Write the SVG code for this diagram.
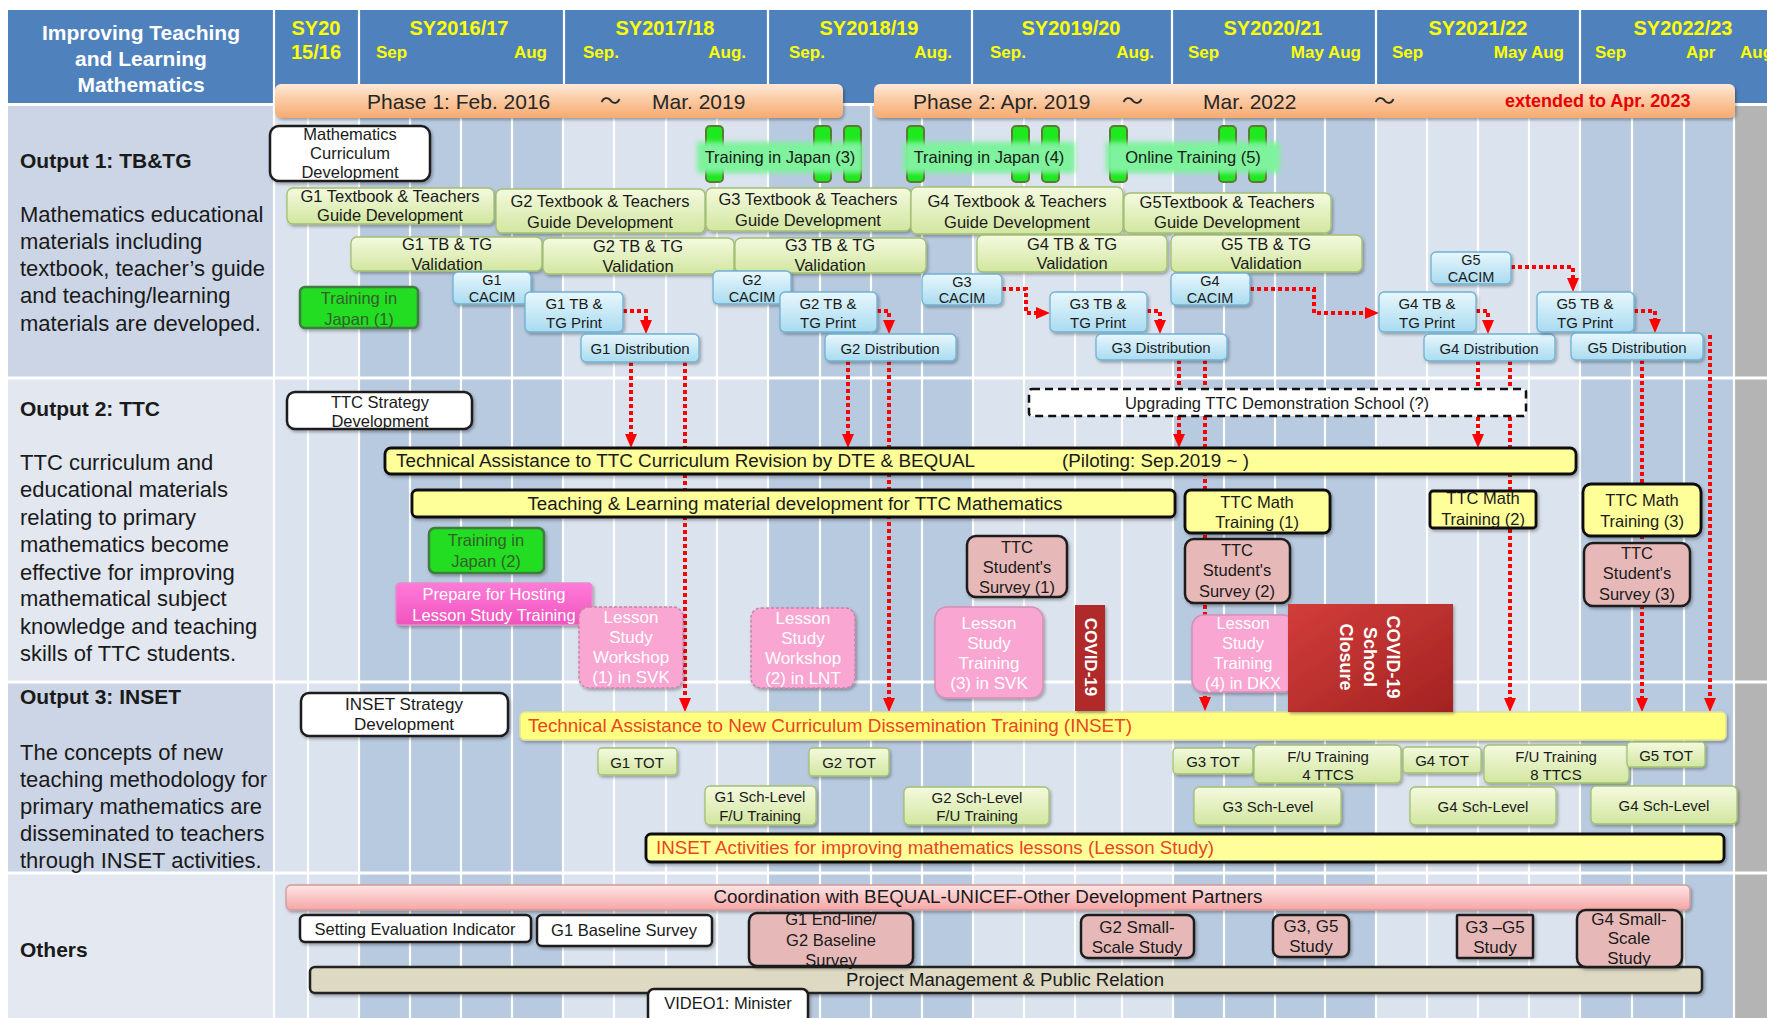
<svg xmlns="http://www.w3.org/2000/svg" width="1767" height="1018" viewBox="0 0 1767 1018">
<defs>
<style>
text{font-family:"Liberation Sans",Arial,"Noto Sans CJK JP",sans-serif;dominant-baseline:central;fill:#1a1a1a}
.c{text-anchor:middle}
.e{text-anchor:end}
.s14{font-size:14.5px}.s15{font-size:15px}.s16{font-size:16.5px}.s17{font-size:17px}
.hd{fill:#fff;font-weight:bold;font-size:21px;text-anchor:middle}
.yr{fill:#ffff00;font-weight:bold;font-size:20px;text-anchor:middle}
.mo{fill:#ffff00;font-weight:bold;font-size:17px}
.ph{font-size:21px;fill:#262626}
.lab{font-size:21px;font-weight:bold}
.desc{font-size:22px}
.light{fill:#dbe3ee}.dark{fill:#b8cadf}
.grid{stroke:#fff;stroke-width:2.2}
.green{fill:url(#gGreen);stroke:#a3c071;stroke-width:1.3}
.blue{fill:url(#gBlue);stroke:#6fb1d4;stroke-width:1.3}
.white{fill:#fff;stroke:#1e1e1e;stroke-width:2.5}
.pink{fill:#e6b9b8;stroke:#1e1e1e;stroke-width:2.5}
.yel{fill:#ffff99;stroke:#111;stroke-width:2.8}
.jp{fill:#20dd20;stroke:#3f7b3f;stroke-width:2.5}
.jpt{fill:#35602a}
.pill{fill:#1ee81e;stroke:#5d7a33;stroke-width:2}
.ls{fill:#f9a6d2;stroke:#d58fb6;stroke-width:1.5}
.lsd{fill:#f9a6d2;stroke:#c983a8;stroke-width:1.5;stroke-dasharray:3 2}
.wt{fill:#fff}
.red{fill:#e8461e}
.sh{filter:url(#sh)}
.dot{fill:none;stroke:#ff0000;stroke-width:4;stroke-dasharray:4 3;marker-end:url(#ah)}
</style>
<linearGradient id="gGreen" x1="0" y1="0" x2="0" y2="1"><stop offset="0" stop-color="#f4fadf"/><stop offset="1" stop-color="#d2e6a0"/></linearGradient>
<linearGradient id="gBlue" x1="0" y1="0" x2="0" y2="1"><stop offset="0" stop-color="#e8f7fd"/><stop offset="1" stop-color="#a9dbf0"/></linearGradient>
<linearGradient id="gPhase" x1="0" y1="0" x2="0" y2="1"><stop offset="0" stop-color="#fee9d8"/><stop offset="0.5" stop-color="#fbc89f"/><stop offset="1" stop-color="#f6aa70"/></linearGradient>
<linearGradient id="gCoord" x1="0" y1="0" x2="0" y2="1"><stop offset="0" stop-color="#ffe6e6"/><stop offset="1" stop-color="#f5a5a5"/></linearGradient>
<linearGradient id="gCovid" x1="0" y1="0" x2="1" y2="1"><stop offset="0" stop-color="#d23d3a"/><stop offset="1" stop-color="#a32322"/></linearGradient>
<linearGradient id="gMag" x1="0" y1="0" x2="0" y2="1"><stop offset="0" stop-color="#ff7bd8"/><stop offset="1" stop-color="#f054be"/></linearGradient>
<filter id="sh" x="-10%" y="-20%" width="125%" height="150%"><feDropShadow dx="1.5" dy="2" stdDeviation="1.5" flood-color="#000" flood-opacity="0.3"/></filter>
<filter id="gl" x="-10%" y="-30%" width="120%" height="160%"><feGaussianBlur stdDeviation="2.5"/></filter>
<marker id="ah" markerUnits="userSpaceOnUse" markerWidth="14" markerHeight="13" refX="3" refY="6.5" orient="auto"><path d="M0,0.5 L14,6.5 L0,12.5 Z" fill="#ff0000"/></marker>
</defs>

<!-- page, header band and row backgrounds -->
<g id="background">
<rect width="1767" height="1018" fill="#fff"/>
<rect x="8" y="10" width="1759" height="94" fill="#4f81bd"/>
<rect x="8" y="105" width="266" height="272" fill="#cbd5e5"/>
<rect x="8" y="379" width="266" height="302" fill="#e2e7f0"/>
<rect x="8" y="683" width="266" height="189" fill="#ccd5e5"/>
<rect x="8" y="874" width="266" height="144" fill="#e4e9f1"/>
<rect class="light" x="275" y="105" width="84" height="913"/>
<rect class="dark" x="359" y="105" width="204" height="913"/>
<rect class="light" x="563" y="105" width="205" height="913"/>
<rect class="dark" x="768" y="105" width="205" height="913"/>
<rect class="light" x="973" y="105" width="200" height="913"/>
<rect class="dark" x="1173" y="105" width="203" height="913"/>
<rect class="light" x="1376" y="105" width="204" height="913"/>
<rect class="dark" x="1580" y="105" width="154" height="913"/>
<rect x="1734" y="105" width="33" height="913" fill="#b4b4b4"/>
<g class="grid">
<path d="M274,10V1018M359,10V104M564,10V104M768,10V104M972,10V104M1172,10V104M1376,10V104M1580,10V104"/>
<path d="M308,105V1018M359,105V1018M410,105V1018M461,105V1018M512,105V1018M563,105V1018M614,105V1018M666,105V1018M717,105V1018M768,105V1018M820,105V1018M871,105V1018M922,105V1018M973,105V1018M1024,105V1018M1075,105V1018M1122,105V1018M1173,105V1018M1224,105V1018M1275,105V1018M1325,105V1018M1376,105V1018M1427,105V1018M1478,105V1018M1529,105V1018M1580,105V1018M1632,105V1018M1684,105V1018M1734,105V1018"/>
<path d="M8,104.5H1767M8,378H1767M8,682H1767M8,873H1767" stroke-width="3"/>
</g>
</g>

<!-- header: title, school years and months -->
<g id="title">
<text class="hd" x="141" y="32">Improving Teaching</text>
<text class="hd" x="141" y="58">and Learning</text>
<text class="hd" x="141" y="84">Mathematics</text>
</g>
<g id="years">
<text class="yr" x="316" y="28">SY20</text><text class="yr" x="316" y="52">15/16</text>
<text class="yr" x="459" y="28">SY2016/17</text><text class="mo" x="376" y="52">Sep</text><text class="mo e" x="547" y="52">Aug</text>
<text class="yr" x="665" y="28">SY2017/18</text><text class="mo" x="583" y="52">Sep.</text><text class="mo e" x="746" y="52">Aug.</text>
<text class="yr" x="869" y="28">SY2018/19</text><text class="mo" x="789" y="52">Sep.</text><text class="mo e" x="952" y="52">Aug.</text>
<text class="yr" x="1071" y="28">SY2019/20</text><text class="mo" x="990" y="52">Sep.</text><text class="mo e" x="1154" y="52">Aug.</text>
<text class="yr" x="1273" y="28">SY2020/21</text><text class="mo" x="1188" y="52">Sep</text><text class="mo e" x="1361" y="52">May Aug</text>
<text class="yr" x="1478" y="28">SY2021/22</text><text class="mo" x="1392" y="52">Sep</text><text class="mo e" x="1564" y="52">May Aug</text>
<text class="yr" x="1683" y="28">SY2022/23</text><text class="mo" x="1595" y="52">Sep</text><text class="mo" x="1686" y="52">Apr</text><text class="mo" x="1740" y="52">Aug</text>
</g>

<g id="phase1">
<rect class="sh" x="275" y="84" width="568" height="34" rx="6" fill="url(#gPhase)"/>
<text class="ph" x="367" y="101">Phase 1: Feb. 2016</text>
<text class="ph" x="600" y="100">～</text>
<text class="ph" x="652" y="101">Mar. 2019</text>
</g>
<g id="phase2">
<rect class="sh" x="874" y="84" width="861" height="34" rx="6" fill="url(#gPhase)"/>
<text class="ph" x="913" y="101" font-size="20">Phase 2: Apr. 2019</text>
<text class="ph" x="1122" y="100">～</text>
<text class="ph" x="1203" y="101" font-size="20">Mar. 2022</text>
<text class="ph" x="1374" y="100">～</text>
<text x="1505" y="101" font-size="18" font-weight="bold" style="fill:#e60000">extended to Apr. 2023</text>
</g>

<!-- left column: outputs -->
<g id="output1-label">
<text class="lab" x="20" y="160">Output 1: TB&amp;TG</text>
<text class="desc" x="20" y="214">Mathematics educational</text>
<text class="desc" x="20" y="241">materials including</text>
<text class="desc" x="20" y="268">textbook, teacher’s guide</text>
<text class="desc" x="20" y="295">and teaching/learning</text>
<text class="desc" x="20" y="323">materials are developed.</text>
</g>
<g id="output2-label">
<text class="lab" x="20" y="408">Output 2: TTC</text>
<text class="desc" x="20" y="462">TTC curriculum  and</text>
<text class="desc" x="20" y="489">educational  materials</text>
<text class="desc" x="20" y="517">relating to primary</text>
<text class="desc" x="20" y="544">mathematics  become</text>
<text class="desc" x="20" y="572">effective for improving</text>
<text class="desc" x="20" y="598">mathematical  subject</text>
<text class="desc" x="20" y="626">knowledge and teaching</text>
<text class="desc" x="20" y="653">skills of TTC students.</text>
</g>
<g id="output3-label">
<text class="lab" x="20" y="696">Output 3: INSET</text>
<text class="desc" x="20" y="752">The concepts of new</text>
<text class="desc" x="20" y="779">teaching methodology for</text>
<text class="desc" x="20" y="806">primary mathematics are</text>
<text class="desc" x="20" y="833">disseminated to teachers</text>
<text class="desc" x="20" y="860">through INSET activities.</text>
</g>
<g id="others-label">
<text class="lab" x="20" y="949">Others</text>
</g>

<!-- dotted red flows between activities (drawn under the activity boxes) -->
<g id="connectors">
<path class="dot" d="M623,311H646V323"/>
<path class="dot" d="M877,311H889V323"/>
<path class="dot" d="M1002,289H1026V313H1039"/>
<path class="dot" d="M1147,311H1160V323"/>
<path class="dot" d="M1250,289H1314V313H1368"/>
<path class="dot" d="M1511,267H1573V281"/>
<path class="dot" d="M1476,311H1488V323"/>
<path class="dot" d="M1634,311H1655V322"/>
<path class="dot" d="M631,362V437"/>
<path class="dot" d="M685,362V701"/>
<path class="dot" d="M848,361V437"/>
<path class="dot" d="M889,361V701"/>
<path class="dot" d="M1179,360V437"/>
<path class="dot" d="M1205,360V700"/>
<path class="dot" d="M1478,361V437"/>
<path class="dot" d="M1510,361V701"/>
<path class="dot" d="M1642,360V701"/>
<path class="dot" d="M1710,335V701"/>
</g>

<!-- long activity bars -->
<g id="ta-ttc-revision">
<rect class="yel sh" x="385" y="448" width="1191" height="26" rx="6"/>
<text x="396" y="461" font-size="18" textLength="579" lengthAdjust="spacingAndGlyphs">Technical Assistance to TTC Curriculum Revision by DTE &amp; BEQUAL</text>
<text x="1062" y="461" font-size="18" textLength="187" lengthAdjust="spacingAndGlyphs">(Piloting: Sep.2019 ~ )</text>
</g>
<g id="tl-material">
<rect class="yel sh" x="412" y="490" width="763" height="27" rx="5"/>
<text class="c" x="795" y="504" font-size="18" textLength="535" lengthAdjust="spacingAndGlyphs">Teaching &amp; Learning material development for TTC Mathematics</text>
</g>
<g id="ta-inset">
<rect class="sh" x="520" y="712" width="1206" height="28" rx="5" fill="#ffff80" stroke="#e2e29a" stroke-width="1.5"/>
<text class="red" x="528" y="726" font-size="17.5" textLength="604" lengthAdjust="spacingAndGlyphs">Technical Assistance to New Curriculum Dissemination Training (INSET)</text>
</g>
<g id="inset-activities">
<rect class="yel sh" x="646" y="834" width="1078" height="28" rx="5"/>
<text class="red" x="656" y="848" font-size="17.5" textLength="558" lengthAdjust="spacingAndGlyphs">INSET Activities for improving mathematics  lessons  (Lesson Study)</text>
</g>
<g id="coordination">
<rect class="sh" x="286" y="885" width="1404" height="25" rx="5" fill="url(#gCoord)" stroke="#d09a9a" stroke-width="1.3"/>
<text class="c" x="988" y="897" font-size="17.5" textLength="549" lengthAdjust="spacingAndGlyphs">Coordination with BEQUAL-UNICEF-Other Development Partners</text>
</g>
<g id="project-management">
<rect class="sh" x="310" y="967" width="1392" height="26" rx="5" fill="#ddd9c3" stroke="#222" stroke-width="2.5"/>
<text class="c" x="1005" y="980" font-size="17.5" textLength="318" lengthAdjust="spacingAndGlyphs">Project Management &amp; Public Relation</text>
</g>

<!-- Output 1 activities -->
<g id="math-curriculum">
<rect class="white sh" x="270" y="126" width="160" height="55" rx="9"/>
<text class="c s16" x="350" y="134">Mathematics</text>
<text class="c s16" x="350" y="153">Curriculum</text>
<text class="c s16" x="350" y="172">Development</text>
</g>
<g id="training-marks">
<rect class="pill" x="706" y="126" width="17" height="56" rx="4"/>
<rect class="pill" x="814" y="126" width="17" height="56" rx="4"/>
<rect class="pill" x="844" y="126" width="17" height="56" rx="4"/>
<rect class="pill" x="907" y="126" width="17" height="56" rx="4"/>
<rect class="pill" x="1012" y="126" width="17" height="56" rx="4"/>
<rect class="pill" x="1042" y="126" width="17" height="56" rx="4"/>
<rect class="pill" x="1110" y="126" width="17" height="56" rx="4"/>
<rect class="pill" x="1219" y="126" width="17" height="56" rx="4"/>
<rect class="pill" x="1249" y="126" width="17" height="56" rx="4"/>
</g>
<g id="training-japan-3">
<rect x="697" y="142" width="166" height="31" fill="#7ef29c" filter="url(#gl)"/>
<text class="c s16" x="780" y="157">Training in Japan (3)</text>
</g>
<g id="training-japan-4">
<rect x="903" y="142" width="172" height="31" fill="#7ef29c" filter="url(#gl)"/>
<text class="c s16" x="989" y="157">Training in Japan (4)</text>
</g>
<g id="online-training-5">
<rect x="1106" y="142" width="174" height="31" fill="#7ef29c" filter="url(#gl)"/>
<text class="c s16" x="1193" y="157">Online Training (5)</text>
</g>

<g id="g1-dev"><rect class="green sh" x="287" y="188" width="207" height="36" rx="6"/>
<text class="c s16" x="390" y="196">G1 Textbook &amp; Teachers</text><text class="c s16" x="390" y="215">Guide Development</text></g>
<g id="g2-dev"><rect class="green sh" x="496" y="189" width="209" height="44" rx="6"/>
<text class="c s16" x="600" y="201">G2 Textbook &amp; Teachers</text><text class="c s16" x="600" y="222">Guide Development</text></g>
<g id="g3-dev"><rect class="green sh" x="706" y="188" width="205" height="43" rx="6"/>
<text class="c s16" x="808" y="199">G3 Textbook &amp; Teachers</text><text class="c s16" x="808" y="220">Guide Development</text></g>
<g id="g4-dev"><rect class="green sh" x="911" y="187" width="212" height="47" rx="6"/>
<text class="c s16" x="1017" y="201">G4 Textbook &amp; Teachers</text><text class="c s16" x="1017" y="222">Guide Development</text></g>
<g id="g5-dev"><rect class="green sh" x="1124" y="193" width="207" height="40" rx="6"/>
<text class="c s16" x="1227" y="202">G5Textbook &amp; Teachers</text><text class="c s16" x="1227" y="222">Guide Development</text></g>

<g id="g1-val"><rect class="green sh" x="351" y="237" width="191" height="34" rx="6"/>
<text class="c s16" x="447" y="244">G1 TB &amp; TG</text><text class="c s16" x="447" y="264">Validation</text></g>
<g id="g2-val"><rect class="green sh" x="543" y="238" width="191" height="36" rx="6"/>
<text class="c s16" x="638" y="246">G2 TB &amp; TG</text><text class="c s16" x="638" y="266">Validation</text></g>
<g id="g3-val"><rect class="green sh" x="735" y="238" width="191" height="35" rx="6"/>
<text class="c s16" x="830" y="245">G3 TB &amp; TG</text><text class="c s16" x="830" y="265">Validation</text></g>
<g id="g4-val"><rect class="green sh" x="977" y="235" width="190" height="37" rx="6"/>
<text class="c s16" x="1072" y="244">G4 TB &amp; TG</text><text class="c s16" x="1072" y="263">Validation</text></g>
<g id="g5-val"><rect class="green sh" x="1171" y="235" width="191" height="37" rx="6"/>
<text class="c s16" x="1266" y="244">G5 TB &amp; TG</text><text class="c s16" x="1266" y="263">Validation</text></g>

<g id="training-japan-1"><rect class="jp sh" x="300" y="287" width="118" height="41" rx="5"/>
<text class="c s16 jpt" x="359" y="298">Training in</text><text class="c s16 jpt" x="359" y="319">Japan (1)</text></g>

<g id="g1-cacim"><rect class="blue sh" x="453" y="272" width="78" height="32" rx="5"/>
<text class="c s14" x="492" y="280">G1</text><text class="c s14" x="492" y="297">CACIM</text></g>
<g id="g1-print"><rect class="blue sh" x="525" y="292" width="98" height="40" rx="5"/>
<text class="c s15" x="574" y="303">G1 TB &amp;</text><text class="c s15" x="574" y="322">TG Print</text></g>
<g id="g1-dist"><rect class="blue sh" x="581" y="334" width="118" height="28" rx="5"/>
<text class="c s15" x="640" y="348">G1 Distribution</text></g>
<g id="g2-cacim"><rect class="blue sh" x="713" y="271" width="78" height="33" rx="5"/>
<text class="c s14" x="752" y="280">G2</text><text class="c s14" x="752" y="297">CACIM</text></g>
<g id="g2-print"><rect class="blue sh" x="780" y="292" width="97" height="40" rx="5"/>
<text class="c s15" x="828" y="303">G2 TB &amp;</text><text class="c s15" x="828" y="322">TG Print</text></g>
<g id="g2-dist"><rect class="blue sh" x="825" y="334" width="131" height="27" rx="5"/>
<text class="c s15" x="890" y="348">G2 Distribution</text></g>
<g id="g3-cacim"><rect class="blue sh" x="922" y="274" width="80" height="31" rx="5"/>
<text class="c s14" x="962" y="282">G3</text><text class="c s14" x="962" y="298">CACIM</text></g>
<g id="g3-print"><rect class="blue sh" x="1050" y="292" width="97" height="40" rx="5"/>
<text class="c s15" x="1098" y="303">G3 TB &amp;</text><text class="c s15" x="1098" y="322">TG Print</text></g>
<g id="g3-dist"><rect class="blue sh" x="1096" y="334" width="131" height="26" rx="5"/>
<text class="c s15" x="1161" y="347">G3 Distribution</text></g>
<g id="g4-cacim"><rect class="blue sh" x="1171" y="273" width="79" height="32" rx="5"/>
<text class="c s14" x="1210" y="281">G4</text><text class="c s14" x="1210" y="298">CACIM</text></g>
<g id="g5-cacim"><rect class="blue sh" x="1431" y="252" width="80" height="32" rx="5"/>
<text class="c s14" x="1471" y="260">G5</text><text class="c s14" x="1471" y="277">CACIM</text></g>
<g id="g4-print"><rect class="blue sh" x="1379" y="292" width="97" height="40" rx="5"/>
<text class="c s15" x="1427" y="303">G4 TB &amp;</text><text class="c s15" x="1427" y="322">TG Print</text></g>
<g id="g4-dist"><rect class="blue sh" x="1424" y="334" width="131" height="27" rx="5"/>
<text class="c s15" x="1489" y="348">G4 Distribution</text></g>
<g id="g5-print"><rect class="blue sh" x="1537" y="292" width="97" height="40" rx="5"/>
<text class="c s15" x="1585" y="303">G5 TB &amp;</text><text class="c s15" x="1585" y="322">TG Print</text></g>
<g id="g5-dist"><rect class="blue sh" x="1571" y="333" width="132" height="27" rx="5"/>
<text class="c s15" x="1637" y="347">G5 Distribution</text></g>

<!-- Output 2 activities -->
<g id="ttc-strategy"><rect class="white sh" x="287" y="392" width="185" height="37" rx="8"/>
<text class="c s16" x="380" y="402">TTC Strategy</text><text class="c s16" x="380" y="421">Development</text></g>
<g id="upgrading-demo"><rect x="1029" y="389" width="497" height="27" rx="3" fill="#fff" stroke="#111" stroke-width="2.5" stroke-dasharray="8 5"/>
<text class="c s16" x="1277" y="403">Upgrading TTC Demonstration School  (?)</text></g>
<g id="ttc-math-1"><rect class="yel sh" x="1185" y="490" width="145" height="43" rx="6"/>
<text class="c s16" x="1257" y="502">TTC Math</text><text class="c s16" x="1257" y="522">Training (1)</text></g>
<g id="ttc-math-2"><rect class="yel sh" x="1430" y="491" width="106" height="37" rx="3"/>
<text class="c s16" x="1483" y="498">TTC Math</text><text class="c s16" x="1483" y="519">Training (2)</text></g>
<g id="ttc-math-3"><rect class="yel sh" x="1583" y="484" width="118" height="52" rx="8"/>
<text class="c s16" x="1642" y="500">TTC Math</text><text class="c s16" x="1642" y="521">Training (3)</text></g>
<g id="survey-1"><rect class="pink sh" x="967" y="536" width="100" height="61" rx="9"/>
<text class="c s16" x="1017" y="547">TTC</text><text class="c s16" x="1017" y="567">Student's</text><text class="c s16" x="1017" y="587">Survey (1)</text></g>
<g id="survey-2"><rect class="pink sh" x="1185" y="539" width="105" height="64" rx="9"/>
<text class="c s16" x="1237" y="550">TTC</text><text class="c s16" x="1237" y="570">Student's</text><text class="c s16" x="1237" y="591">Survey (2)</text></g>
<g id="survey-3"><rect class="pink sh" x="1584" y="543" width="106" height="63" rx="9"/>
<text class="c s16" x="1637" y="553">TTC</text><text class="c s16" x="1637" y="573">Student's</text><text class="c s16" x="1637" y="594">Survey (3)</text></g>
<g id="training-japan-2"><rect class="jp sh" x="429" y="528" width="115" height="45" rx="6"/>
<text class="c s16 jpt" x="486" y="540">Training in</text><text class="c s16 jpt" x="486" y="561">Japan (2)</text></g>
<g id="prepare-lesson-study"><rect class="sh" x="396" y="583" width="196" height="42" rx="4" fill="url(#gMag)" stroke="#e58ccb" stroke-width="1.3"/>
<text class="c s16 wt" x="494" y="594">Prepare for Hosting</text><text class="c s16 wt" x="494" y="615">Lesson Study Training</text></g>
<g id="lsw-1"><rect class="lsd sh" x="579" y="607" width="104" height="81" rx="10"/>
<text class="c s17 wt" x="631" y="617">Lesson</text><text class="c s17 wt" x="631" y="637">Study</text><text class="c s17 wt" x="631" y="657">Workshop</text><text class="c s17 wt" x="631" y="677">(1) in SVK</text></g>
<g id="lsw-2"><rect class="lsd sh" x="751" y="608" width="104" height="80" rx="10"/>
<text class="c s17 wt" x="803" y="618">Lesson</text><text class="c s17 wt" x="803" y="638">Study</text><text class="c s17 wt" x="803" y="658">Workshop</text><text class="c s17 wt" x="803" y="678">(2) in LNT</text></g>
<g id="lst-3"><rect class="ls sh" x="935" y="607" width="108" height="91" rx="12"/>
<text class="c s17 wt" x="989" y="623">Lesson</text><text class="c s17 wt" x="989" y="643">Study</text><text class="c s17 wt" x="989" y="663">Training</text><text class="c s17 wt" x="989" y="683">(3) in SVK</text></g>
<g id="covid-19"><rect class="sh" x="1075" y="605" width="30" height="106" fill="#b02a2a"/>
<text class="c wt" transform="translate(1090,657) rotate(90)" font-size="17" font-weight="bold">COVID-19</text></g>
<g id="lst-4"><rect class="ls sh" x="1192" y="615" width="103" height="77" rx="12"/>
<text class="c s16 wt" x="1243" y="623">Lesson</text><text class="c s16 wt" x="1243" y="643">Study</text><text class="c s16 wt" x="1243" y="663">Training</text><text class="c s16 wt" x="1243" y="683">(4) in DKX</text></g>
<g id="covid-school-closure"><rect class="sh" x="1288" y="604" width="165" height="108" fill="url(#gCovid)"/>
<g transform="translate(1369,657) rotate(90)" font-size="18" font-weight="bold">
<text class="c wt" x="0" y="-24">COVID-19</text><text class="c wt" x="0" y="-1">School</text><text class="c wt" x="0" y="23">Closure</text></g></g>

<!-- Output 3 activities -->
<g id="inset-strategy"><rect class="white sh" x="301" y="693" width="207" height="43" rx="8"/>
<text class="c s17" x="404" y="704">INSET Strategy</text><text class="c s17" x="404" y="724">Development</text></g>
<g id="g1-tot"><rect class="green sh" x="598" y="748" width="79" height="27" rx="4"/><text class="c s15" x="637" y="762">G1 TOT</text></g>
<g id="g2-tot"><rect class="green sh" x="809" y="748" width="80" height="28" rx="4"/><text class="c s15" x="849" y="762">G2 TOT</text></g>
<g id="g1-sch"><rect class="green sh" x="705" y="786" width="111" height="39" rx="5"/>
<text class="c s15" x="760" y="796">G1 Sch-Level</text><text class="c s15" x="760" y="815">F/U Training</text></g>
<g id="g2-sch"><rect class="green sh" x="904" y="787" width="145" height="38" rx="5"/>
<text class="c s15" x="977" y="797">G2 Sch-Level</text><text class="c s15" x="977" y="815">F/U Training</text></g>
<g id="g3-tot"><rect class="green sh" x="1173" y="748" width="80" height="26" rx="4"/><text class="c s15" x="1213" y="761">G3 TOT</text></g>
<g id="fu-4ttcs"><rect class="green sh" x="1254" y="745" width="147" height="38" rx="5"/>
<text class="c s15" x="1328" y="756">F/U Training</text><text class="c s15" x="1328" y="774">4 TTCS</text></g>
<g id="g4-tot"><rect class="green sh" x="1403" y="747" width="78" height="26" rx="4"/><text class="c s15" x="1442" y="760">G4 TOT</text></g>
<g id="fu-8ttcs"><rect class="green sh" x="1484" y="745" width="145" height="38" rx="5"/>
<text class="c s15" x="1556" y="756">F/U Training</text><text class="c s15" x="1556" y="774">8 TTCS</text></g>
<g id="g5-tot"><rect class="green sh" x="1627" y="742" width="78" height="25" rx="4"/><text class="c s15" x="1666" y="755">G5 TOT</text></g>
<g id="g3-sch"><rect class="green sh" x="1194" y="787" width="147" height="38" rx="5"/><text class="c s15" x="1268" y="806">G3 Sch-Level</text></g>
<g id="g4-sch"><rect class="green sh" x="1410" y="787" width="146" height="38" rx="5"/><text class="c s15" x="1483" y="806">G4 Sch-Level</text></g>
<g id="g4-sch-b"><rect class="green sh" x="1591" y="786" width="146" height="38" rx="5"/><text class="c s15" x="1664" y="805">G4 Sch-Level</text></g>

<!-- Others -->
<g id="evaluation-indicator"><rect class="white sh" x="300" y="915" width="231" height="27" rx="5" stroke-width="2"/>
<text class="c s16" x="415" y="929">Setting Evaluation Indicator</text></g>
<g id="g1-baseline"><rect class="white sh" x="537" y="915" width="175" height="31" rx="5" stroke-width="2"/>
<text class="c s16" x="624" y="930">G1 Baseline Survey</text></g>
<g id="g1-endline"><rect class="pink sh" x="749" y="913" width="164" height="53" rx="8"/>
<text class="c s16" x="831" y="919">G1 End-line/</text><text class="c s16" x="831" y="940">G2 Baseline</text><text class="c s16" x="831" y="960">Survey</text></g>
<g id="g2-small"><rect class="pink sh" x="1081" y="915" width="113" height="43" rx="7"/>
<text class="c s17" x="1137" y="927">G2 Small-</text><text class="c s17" x="1137" y="947">Scale Study</text></g>
<g id="g3g5-study"><rect class="pink sh" x="1273" y="915" width="76" height="42" rx="7"/>
<text class="c s17" x="1311" y="926">G3, G5</text><text class="c s17" x="1311" y="946">Study</text></g>
<g id="g3-g5-study"><rect class="pink sh" x="1457" y="915" width="76" height="43" rx="1"/>
<text class="c s17" x="1495" y="927">G3 –G5</text><text class="c s17" x="1495" y="947">Study</text></g>
<g id="g4-small"><rect class="pink sh" x="1577" y="910" width="105" height="57" rx="9"/>
<text class="c s17" x="1629" y="919">G4 Small-</text><text class="c s17" x="1629" y="938">Scale</text><text class="c s17" x="1629" y="958">Study</text></g>
<g id="video1"><rect class="white sh" x="648" y="989" width="160" height="34" rx="6" stroke-width="2"/>
<text class="c s16" x="728" y="1003">VIDEO1: Minister</text></g>
</svg>
